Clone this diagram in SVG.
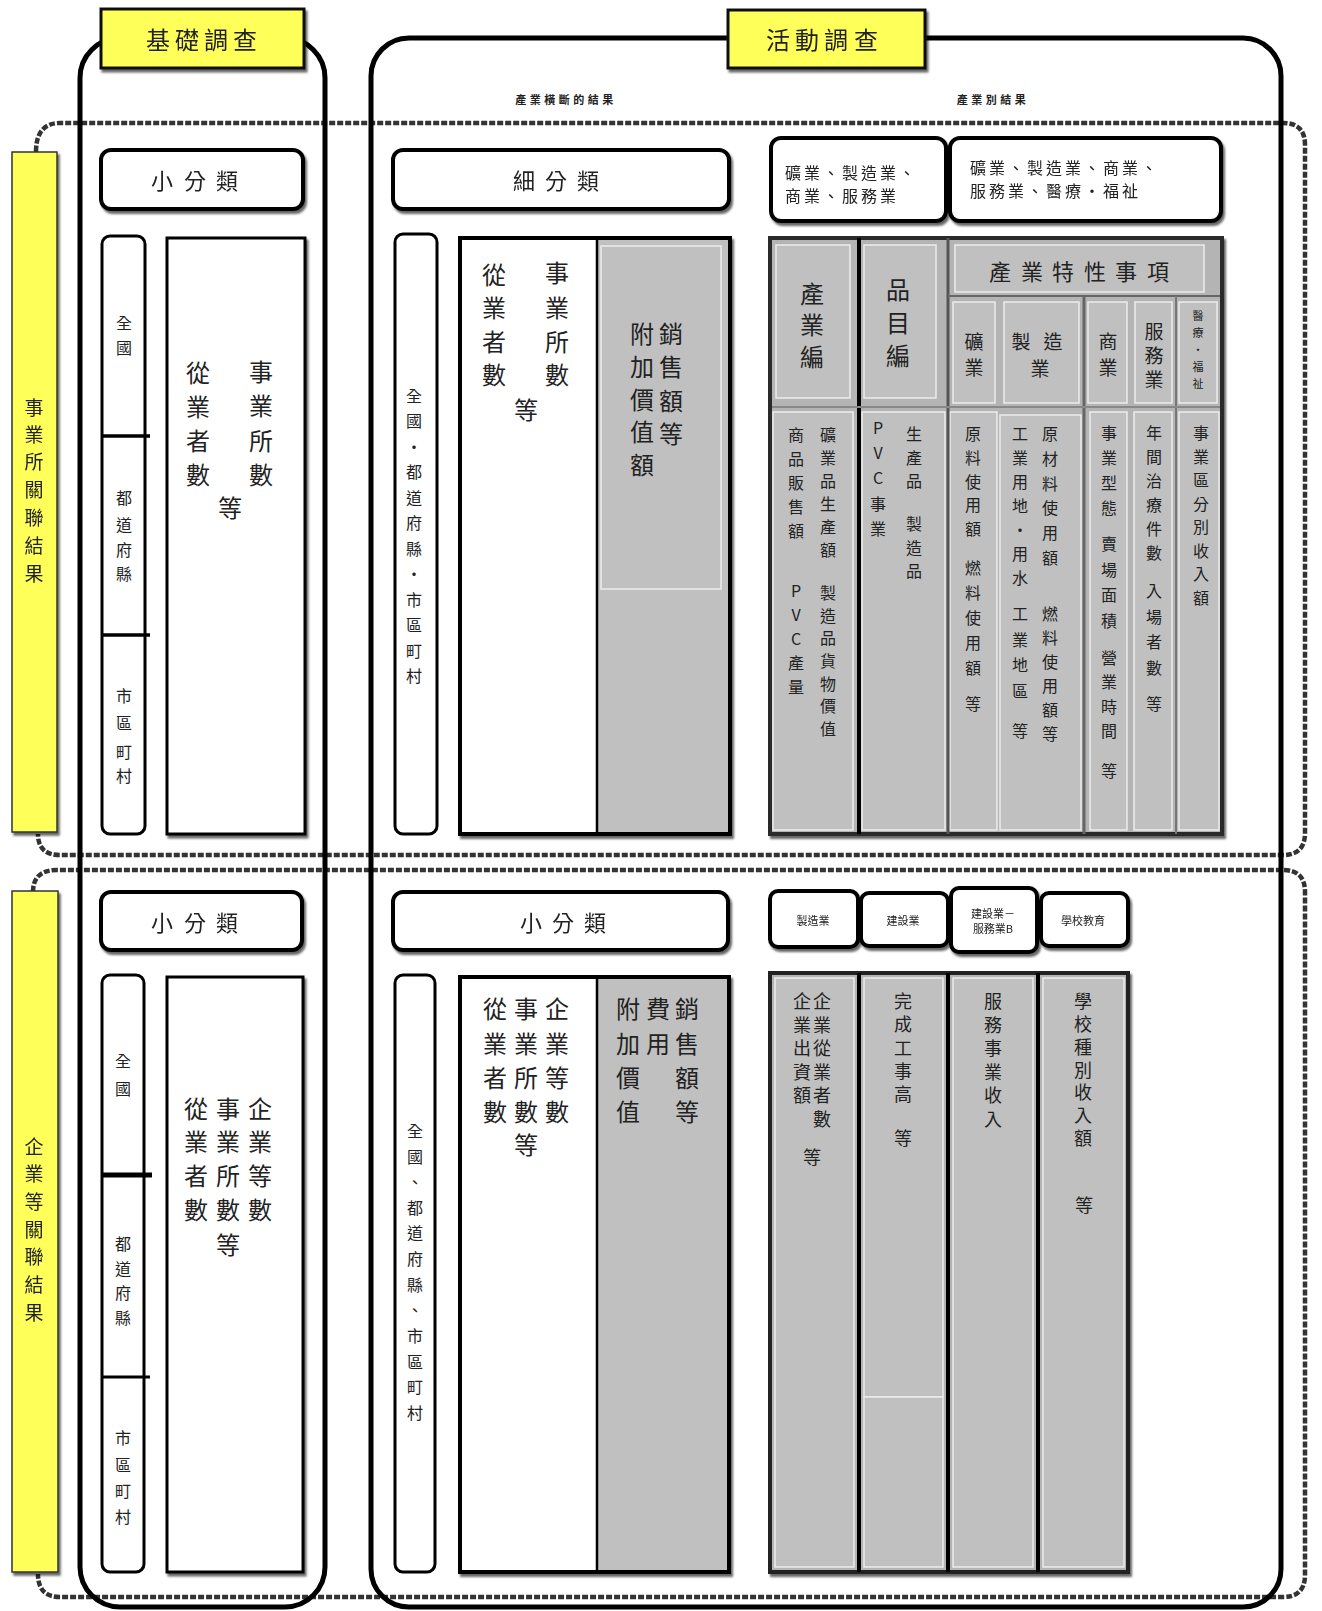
<svg xmlns="http://www.w3.org/2000/svg" width="1322" height="1611" viewBox="0 0 1322 1611">
<defs>
<filter id="sh" x="-10%" y="-10%" width="130%" height="130%">
<feDropShadow dx="2" dy="3" stdDeviation="1.2" flood-color="#000" flood-opacity="0.6"/>
</filter>
<style>
text{font-family:"Noto Sans CJK TC","Noto Sans CJK JP",sans-serif;fill:#222;text-anchor:middle;dominant-baseline:central}
.frame{fill:none;stroke:#000;stroke-width:5}
.dash{fill:none;stroke:#333;stroke-width:4.5;stroke-dasharray:6 2}
.ylw{fill:#ffff5a;stroke:#111;stroke-width:3}
.ylws{fill:#ffff5a;stroke:#333;stroke-width:1.5}
.wb{fill:#fff;stroke:#000;stroke-width:4}
.wb3{fill:#fff;stroke:#000;stroke-width:3}
.gray{fill:#c0c0c0}
.cell{fill:#c0c0c0;stroke:#ececec;stroke-width:1.5}
.lt{fill:none;stroke:#ececec;stroke-width:1.5}
.f24{font-size:24px}
.f22{font-size:22px}
.f19{font-size:19px}
.f18{font-size:18px}
.f16{font-size:16px}
.f15{font-size:15px}
.f11{font-size:11px}
.sm{font-size:11px;font-weight:bold;letter-spacing:3.5px}
.hl{font-size:16px;text-anchor:start;letter-spacing:3px}
</style>
</defs>
<rect x="0" y="0" width="1322" height="1611" fill="#fff"/>

<g id="connectors">
<path class="dash" d="M36,152 Q36,123 60,123 H1283 Q1305,123 1305,145 V833 Q1305,855 1283,855 H60 Q38,855 38,834"/>
<path class="dash" d="M33,892 Q33,870 57,870 H1283 Q1305,870 1305,892 V1575 Q1305,1597 1283,1597 H60 Q38,1597 38,1574"/>
<rect class="frame" x="80" y="38" width="245" height="1569" rx="40"/>
<rect class="frame" x="371" y="38" width="910" height="1569" rx="38"/>
</g>

<g id="title-basic" filter="url(#sh)">
<rect class="ylw" x="101" y="9" width="203" height="59"/>
<text class="f24" x="158 187 216 245" y="38">基礎調查</text>
</g>
<g id="title-activity" filter="url(#sh)">
<rect class="ylw" x="728" y="10" width="197" height="58"/>
<text class="f24" x="778 807 836 866" y="38">活動調查</text>
</g>

<g id="side-establishment" filter="url(#sh)">
<rect class="ylws" x="12" y="152" width="45" height="680"/>
<text class="f19" x="34 34 34 34 34 34 34" y="406 433 460 488 516 544 572">事業所關聯結果</text>
</g>
<g id="side-enterprise" filter="url(#sh)">
<rect class="ylws" x="12" y="891" width="46" height="681"/>
<text class="f19" x="34 34 34 34 34 34 34" y="1145 1172 1200 1228 1255 1283 1311">企業等關聯結果</text>
</g>

<g id="sub-labels">
<text class="sm" x="566" y="99">產業橫斷的結果</text>
<text class="sm" x="993" y="99">產業別結果</text>
</g>

<!-- Row 1 basic -->
<g id="r1-basic-class" filter="url(#sh)">
<rect class="wb" x="101" y="150" width="202" height="59" rx="10"/>
<text class="f22" x="162 195 227" y="179">小分類</text>
</g>
<g id="r1-basic-region">
<rect class="wb3" x="102" y="236" width="43" height="598" rx="8"/>
<line x1="102" y1="436" x2="150" y2="436" stroke="#000" stroke-width="3.5"/>
<line x1="102" y1="635" x2="150" y2="635" stroke="#000" stroke-width="3.5"/>
<text class="f16" x="124 124" y="322 347">全國</text>
<text class="f16" x="124 124 124 124" y="497 524 549 573">都道府縣</text>
<text class="f16" x="124 124 124 124" y="695 722 751 775">市區町村</text>
</g>
<g id="r1-basic-data">
<rect class="wb3" x="167" y="238" width="138" height="596" filter="url(#sh)"/>
<text class="f24" x="261 261 261 261" y="370 404 439 473">事業所數</text>
<text class="f24" x="198 198 198 198" y="371 405 439 473">從業者數</text>
<text class="f24" x="230" y="506">等</text>
</g>

<!-- Row 1 activity cross-industry -->
<g id="r1-act-class" filter="url(#sh)">
<rect class="wb" x="393" y="150" width="336" height="59" rx="10"/>
<text class="f22" x="524 556 588" y="179">細分類</text>
</g>
<g id="r1-act-region">
<rect class="wb3" x="395" y="234" width="42" height="600" rx="8"/>
<text class="f16" x="414 414 414 414 414 414 414 414 414 414 414 414" y="395 420 446 471 497 522 548 573 599 624 650 675">全國・都道府縣・市區町村</text>
</g>
<g id="r1-act-data">
<rect class="wb" x="460" y="238" width="270" height="596" filter="url(#sh)"/>
<rect class="gray" x="597" y="240" width="131" height="592"/>
<line x1="597" y1="238" x2="597" y2="834" stroke="#000" stroke-width="2.5"/>
<rect class="lt" x="601" y="246" width="120" height="343"/>
<text class="f24" x="557 557 557 557" y="271 306 340 373">事業所數</text>
<text class="f24" x="494 494 494 494" y="273 306 340 373">從業者數</text>
<text class="f24" x="526" y="408">等</text>
<text class="f24" x="671 671 671 671" y="332 365 399 432">銷售額等</text>
<text class="f24" x="642 642 642 642 642" y="332 365 398 430 463">附加價值額</text>
</g>

<!-- Row 1 activity industry headers -->
<g id="r1-ind-head1" filter="url(#sh)">
<rect class="wb" x="771" y="138" width="175" height="83" rx="10"/>
<text class="hl" x="785" y="172">礦業、製造業、</text>
<text class="hl" x="785" y="195">商業、服務業</text>
</g>
<g id="r1-ind-head2" filter="url(#sh)">
<rect class="wb" x="950" y="138" width="271" height="83" rx="10"/>
<text class="hl" x="970" y="167">礦業、製造業、商業、</text>
<text class="hl" x="970" y="190">服務業、醫療・福祉</text>
</g>

<!-- Row 1 industry table -->
<g id="r1-ind-table">
<rect x="770" y="238" width="452" height="596" fill="#b4b4b4" stroke="#2a2a2a" stroke-width="4" filter="url(#sh)"/>
<rect class="cell" x="776" y="245" width="74" height="153"/>
<rect class="cell" x="864" y="245" width="72" height="153"/>
<rect class="cell" x="955" y="245" width="249" height="47"/>
<rect class="cell" x="953" y="302" width="42" height="101"/>
<rect class="cell" x="1004" y="302" width="75" height="101"/>
<rect class="cell" x="1088" y="302" width="39" height="101"/>
<rect class="cell" x="1135" y="302" width="37" height="101"/>
<rect class="cell" x="1179" y="302" width="38" height="101"/>
<rect class="cell" x="773" y="412" width="80" height="418"/>
<rect class="cell" x="862" y="412" width="83" height="418"/>
<rect class="cell" x="950" y="412" width="47" height="418"/>
<rect class="cell" x="1000" y="415" width="81" height="415"/>
<rect class="cell" x="1090" y="412" width="37" height="418"/>
<rect class="cell" x="1134" y="412" width="38" height="418"/>
<rect class="cell" x="1179" y="412" width="40" height="418"/>
<line x1="859" y1="238" x2="859" y2="834" stroke="#000" stroke-width="4"/>
<line x1="948" y1="238" x2="948" y2="834" stroke="#555" stroke-width="3"/>
<line x1="948" y1="296" x2="1220" y2="296" stroke="#666" stroke-width="2"/>
<line x1="1084" y1="296" x2="1084" y2="834" stroke="#666" stroke-width="3"/>
<line x1="1176" y1="296" x2="1176" y2="834" stroke="#777" stroke-width="2"/>
<line x1="772" y1="407" x2="1220" y2="407" stroke="#888" stroke-width="2"/>

<text class="f24" x="812 812 812" y="292 323 355">產業編</text>
<text class="f24" x="898 898 898" y="288 321 354">品目編</text>
<text class="f22" x="1000 1032 1063 1095 1126 1158" y="270">產業特性事項</text>
<text class="f19" x="974 974" y="340 366">礦業</text>
<text class="f19" x="1021 1053 1040" y="340 340 367">製造業</text>
<text class="f19" x="1108 1108" y="340 366">商業</text>
<text class="f19" x="1154 1154 1154" y="330 354 378">服務業</text>
<text class="f11" x="1198 1198 1198 1198 1198" y="315 332 349 366 383">醫療・福祉</text>

<text class="f16" x="828 828 828 828 828 828" y="434 457 480 503 526 549">礦業品生產額</text>
<text class="f16" x="828 828 828 828 828 828 828" y="592 615 637 660 683 705 728">製造品貨物價值</text>
<text class="f16" x="796 796 796 796 796" y="434 458 482 506 530">商品販售額</text>
<text class="f16" x="796 796 796 796 796" y="590 614 638 662 686">PVC產量</text>
<text class="f16" x="914 914 914" y="433 457 480">生產品</text>
<text class="f16" x="914 914 914" y="523 547 570">製造品</text>
<text class="f16" x="878 878 878 878 878" y="427 452 477 503 528">PVC事業</text>
<text class="f16" x="973 973 973 973 973" y="433 457 481 504 528">原料使用額</text>
<text class="f16" x="973 973 973 973 973" y="567 592 617 642 667">燃料使用額</text>
<text class="f16" x="973" y="703">等</text>
<text class="f16" x="1050 1050 1050 1050 1050 1050" y="433 458 483 507 532 557">原材料使用額</text>
<text class="f16" x="1050 1050 1050 1050 1050 1050" y="613 637 661 685 709 733">燃料使用額等</text>
<text class="f16" x="1020 1020 1020 1020 1020 1020 1020" y="433 457 481 505 529 553 577">工業用地・用水</text>
<text class="f16" x="1020 1020 1020 1020" y="613 639 664 690">工業地區</text>
<text class="f16" x="1020" y="730">等</text>
<text class="f16" x="1109 1109 1109 1109" y="432 457 482 507">事業型態</text>
<text class="f16" x="1109 1109 1109 1109" y="543 569 594 620">賣場面積</text>
<text class="f16" x="1109 1109 1109 1109" y="657 681 706 730">營業時間</text>
<text class="f16" x="1109" y="770">等</text>
<text class="f16" x="1154 1154 1154 1154 1154 1154" y="432 456 480 504 528 552">年間治療件數</text>
<text class="f16" x="1154 1154 1154 1154" y="590 616 641 667">入場者數</text>
<text class="f16" x="1154" y="703">等</text>
<text class="f16" x="1201 1201 1201 1201 1201 1201 1201 1201" y="432 456 479 503 526 550 573 597">事業區分別收入額</text>
</g>

<!-- Row 2 basic -->
<g id="r2-basic-class" filter="url(#sh)">
<rect class="wb" x="101" y="892" width="201" height="58" rx="10"/>
<text class="f22" x="162 195 227" y="921">小分類</text>
</g>
<g id="r2-basic-region">
<rect class="wb3" x="102" y="975" width="42" height="597" rx="8"/>
<line x1="102" y1="1175" x2="152" y2="1175" stroke="#000" stroke-width="5"/>
<line x1="102" y1="1377" x2="150" y2="1377" stroke="#000" stroke-width="3"/>
<text class="f16" x="123 123" y="1060 1088">全國</text>
<text class="f16" x="123 123 123 123" y="1243 1268 1292 1317">都道府縣</text>
<text class="f16" x="123 123 123 123" y="1437 1464 1490 1516">市區町村</text>
</g>
<g id="r2-basic-data">
<rect class="wb3" x="167" y="977" width="136" height="595" filter="url(#sh)"/>
<text class="f24" x="260 260 260 260" y="1107 1140 1174 1208">企業等數</text>
<text class="f24" x="228 228 228 228" y="1107 1140 1174 1208">事業所數</text>
<text class="f24" x="196 196 196 196" y="1107 1140 1174 1208">從業者數</text>
<text class="f24" x="228" y="1243">等</text>
</g>

<!-- Row 2 activity cross-industry -->
<g id="r2-act-class" filter="url(#sh)">
<rect class="wb" x="393" y="892" width="335" height="58" rx="10"/>
<text class="f22" x="531 563 595" y="921">小分類</text>
</g>
<g id="r2-act-region">
<rect class="wb3" x="395" y="975" width="40" height="597" rx="8"/>
<text class="f16" x="415 415 415 415 415 415 415 415 415 415 415 415" y="1130 1156 1181 1207 1232 1258 1284 1309 1335 1361 1386 1412">全國、都道府縣、市區町村</text>
</g>
<g id="r2-act-data">
<rect class="wb" x="460" y="977" width="269" height="595" filter="url(#sh)"/>
<rect class="gray" x="597" y="979" width="130" height="591"/>
<line x1="597" y1="977" x2="597" y2="1572" stroke="#000" stroke-width="2.5"/>
<text class="f24" x="557 557 557 557" y="1007 1042 1076 1110">企業等數</text>
<text class="f24" x="526 526 526 526" y="1007 1042 1076 1110">事業所數</text>
<text class="f24" x="495 495 495 495" y="1007 1042 1076 1110">從業者數</text>
<text class="f24" x="526" y="1143">等</text>
<text class="f24" x="687 687 687 687" y="1007 1042 1076 1110">銷售額等</text>
<text class="f24" x="658 658" y="1007 1042">費用</text>
<text class="f24" x="628 628 628 628" y="1007 1042 1076 1110">附加價值</text>
</g>

<!-- Row 2 industry headers -->
<g id="r2-head-mfg" filter="url(#sh)">
<rect class="wb" x="770" y="891" width="88" height="56" rx="8"/>
<text class="f11" x="813" y="920">製造業</text>
</g>
<g id="r2-head-con" filter="url(#sh)">
<rect class="wb" x="861" y="893" width="87" height="53" rx="8"/>
<text class="f11" x="903" y="920">建設業</text>
</g>
<g id="r2-head-svc" filter="url(#sh)">
<rect class="wb" x="951" y="888" width="86" height="64" rx="8"/>
<text class="f11" x="993" y="913">建設業－</text>
<text class="f11" x="993" y="928">服務業B</text>
</g>
<g id="r2-head-edu" filter="url(#sh)">
<rect class="wb" x="1041" y="893" width="87" height="53" rx="8"/>
<text class="f11" x="1083" y="920">學校教育</text>
</g>

<!-- Row 2 industry table -->
<g id="r2-ind-table">
<rect x="770" y="973" width="358" height="599" fill="#b4b4b4" stroke="#222" stroke-width="4" filter="url(#sh)"/>
<rect class="cell" x="775" y="978" width="79" height="589"/>
<rect class="cell" x="864" y="978" width="79" height="419"/>
<rect class="cell" x="864" y="1397" width="79" height="170"/>
<rect class="cell" x="953" y="978" width="80" height="589"/>
<rect class="cell" x="1043" y="978" width="81" height="589"/>
<line x1="859" y1="973" x2="859" y2="1572" stroke="#000" stroke-width="4"/>
<line x1="948" y1="973" x2="948" y2="1572" stroke="#000" stroke-width="4"/>
<line x1="1038" y1="973" x2="1038" y2="1572" stroke="#000" stroke-width="4"/>
<text class="f18" x="822 822 822 822 822 822" y="1000 1024 1047 1071 1094 1118">企業從業者數</text>
<text class="f18" x="802 802 802 802 802" y="1000 1024 1047 1071 1094">企業出資額</text>
<text class="f18" x="812" y="1156">等</text>
<text class="f18" x="903 903 903 903 903" y="1000 1023 1047 1070 1093">完成工事高</text>
<text class="f18" x="903" y="1137">等</text>
<text class="f18" x="993 993 993 993 993 993" y="1000 1024 1047 1071 1094 1118">服務事業收入</text>
<text class="f18" x="1083 1083 1083 1083 1083 1083 1083" y="1000 1023 1046 1069 1091 1114 1137">學校種別收入額</text>
<text class="f18" x="1084" y="1204">等</text>
</g>
</svg>
